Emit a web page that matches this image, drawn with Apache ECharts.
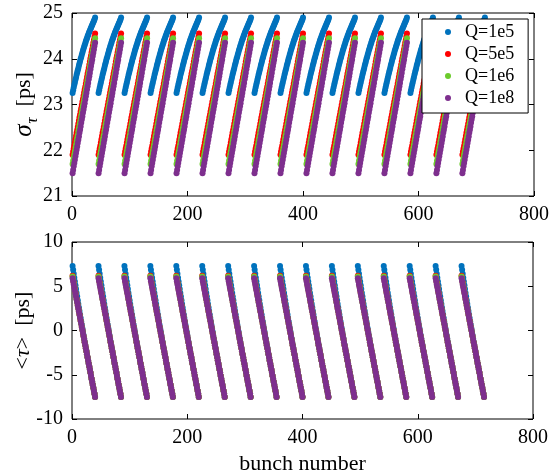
<!DOCTYPE html>
<html><head><meta charset="utf-8">
<script src="https://cdn.jsdelivr.net/npm/echarts@6/dist/echarts.min.js"></script>
<style>html,body{margin:0;padding:0;background:#fff}#c{width:552px;height:476px}</style>
</head><body><div id="c"></div>
<script>
const seriesNames = ['Q=1e5', 'Q=5e5', 'Q=1e6', 'Q=1e8'];
const seriesColors = ['#0072BD', '#FF0000', '#6CCB2C', '#7E2F8E'];
const xTicks = [0, 200, 400, 600, 800];
const sigmaTicks = [21, 22, 23, 24, 25];
const meanTicks = [-10, -5, 0, 5, 10];
// first bunch number of each train
const trainStarts = [1, 46, 91, 136, 181, 226, 271, 316, 361, 406, 451, 496, 541, 586, 631, 676];

// sigma_tau [ps] along one train (40 bunches)
const sigmaQ1e5 = [23.25,23.31,23.37,23.43,23.48,23.54,23.59,23.65,23.70,23.75,23.80,23.85,23.90,23.95,24.00,24.04,24.09,24.13,24.18,24.22,24.26,24.30,24.34,24.38,24.42,24.45,24.49,24.52,24.56,24.59,24.62,24.65,24.68,24.71,24.74,24.77,24.80,24.83,24.86,24.90];
const sigmaQ5e5 = [21.90,21.97,22.04,22.10,22.17,22.24,22.31,22.38,22.44,22.51,22.58,22.65,22.72,22.78,22.85,22.92,22.99,23.06,23.12,23.19,23.26,23.33,23.39,23.46,23.53,23.60,23.67,23.73,23.80,23.87,23.94,24.01,24.07,24.14,24.21,24.28,24.35,24.41,24.48,24.55];
const sigmaQ1e6 = [21.70,21.77,21.84,21.91,21.98,22.05,22.12,22.19,22.26,22.33,22.41,22.48,22.55,22.62,22.69,22.76,22.83,22.90,22.97,23.04,23.11,23.18,23.25,23.32,23.39,23.46,23.53,23.60,23.67,23.74,23.82,23.89,23.96,24.03,24.10,24.17,24.24,24.31,24.38,24.45];
const sigmaQ1e8 = [21.50,21.57,21.65,21.72,21.79,21.87,21.94,22.01,22.08,22.16,22.23,22.30,22.38,22.45,22.52,22.60,22.67,22.74,22.82,22.89,22.96,23.03,23.11,23.18,23.25,23.33,23.40,23.47,23.55,23.62,23.69,23.77,23.84,23.91,23.98,24.06,24.13,24.20,24.28,24.35];

// <tau> [ps] along one train (40 bunches)
const meanQ1e5 = [7.30,6.86,6.41,5.97,5.53,5.10,4.68,4.25,3.83,3.42,3.00,2.60,2.20,1.80,1.41,1.02,0.63,0.25,-0.12,-0.50,-0.87,-1.24,-1.60,-1.96,-2.32,-2.67,-3.02,-3.38,-3.72,-4.06,-4.41,-4.75,-5.10,-5.44,-5.78,-6.13,-6.47,-6.81,-7.16,-7.50];
const meanQ5e5 = [6.20,5.82,5.44,5.07,4.70,4.33,3.97,3.60,3.24,2.89,2.53,2.18,1.83,1.47,1.12,0.78,0.43,0.08,-0.27,-0.62,-0.96,-1.32,-1.66,-2.00,-2.35,-2.69,-3.03,-3.38,-3.72,-4.06,-4.41,-4.75,-5.10,-5.44,-5.78,-6.13,-6.47,-6.81,-7.16,-7.50];
const meanQ1e6 = [6.10,5.73,5.36,5.00,4.64,4.27,3.91,3.54,3.19,2.84,2.49,2.14,1.79,1.44,1.10,0.75,0.40,0.06,-0.28,-0.63,-0.97,-1.32,-1.66,-2.00,-2.35,-2.69,-3.03,-3.38,-3.72,-4.06,-4.41,-4.75,-5.10,-5.44,-5.78,-6.13,-6.47,-6.81,-7.16,-7.50];
const meanQ1e8 = [5.90,5.56,5.21,4.87,4.53,4.18,3.84,3.49,3.15,2.81,2.46,2.12,1.78,1.43,1.09,0.75,0.40,0.06,-0.28,-0.63,-0.97,-1.32,-1.66,-2.00,-2.35,-2.69,-3.03,-3.38,-3.72,-4.06,-4.41,-4.75,-5.10,-5.44,-5.78,-6.13,-6.47,-6.81,-7.16,-7.50];

const sigmaProfiles = [sigmaQ1e5, sigmaQ5e5, sigmaQ1e6, sigmaQ1e8];
const meanProfiles = [meanQ1e5, meanQ5e5, meanQ1e6, meanQ1e8];

function buildPoints(profile) {
  const pts = [];
  trainStarts.forEach(s => profile.forEach((v, i) => pts.push([s + i, v])));
  return pts;
}

const FONT = "'Liberation Serif', 'Times New Roman', serif";
const INK = '#000';

function xAxisPair(gi, extra) {
  const base = {
    gridIndex: gi, type: 'value', min: xTicks[0], max: xTicks[xTicks.length - 1],
    interval: xTicks[1] - xTicks[0],
    axisLine: { show: false, onZero: false },
    axisTick: { inside: true, length: 5, lineStyle: { color: INK } },
    splitLine: { show: false }
  };
  return [
    Object.assign({}, base, { position: 'bottom',
      axisLabel: { fontFamily: FONT, fontSize: 20, color: INK, margin: 9 } }, extra || {}),
    Object.assign({}, base, { position: 'top', axisLabel: { show: false } })
  ];
}
function yAxisPair(gi, ticks, extra) {
  const base = {
    gridIndex: gi, type: 'value', min: ticks[0], max: ticks[ticks.length - 1],
    interval: ticks[1] - ticks[0],
    axisLine: { show: false, onZero: false },
    axisTick: { inside: true, length: 5, lineStyle: { color: INK } },
    splitLine: { show: false }
  };
  return [
    Object.assign({}, base, { position: 'left',
      axisLabel: { fontFamily: FONT, fontSize: 20, color: INK, margin: 9 } }, extra || {}),
    Object.assign({}, base, { position: 'right', axisLabel: { show: false } })
  ];
}

const series = [];
seriesNames.forEach((name, k) => {
  series.push({
    name, type: 'scatter', xAxisIndex: 0, yAxisIndex: 0,
    data: buildPoints(sigmaProfiles[k]), symbol: 'circle', symbolSize: 6,
    itemStyle: { color: seriesColors[k], opacity: 1 }, clip: false, large: false
  });
});
seriesNames.forEach((name, k) => {
  series.push({
    name, type: 'scatter', xAxisIndex: 2, yAxisIndex: 2,
    data: buildPoints(meanProfiles[k]), symbol: 'circle', symbolSize: 6,
    itemStyle: { color: seriesColors[k], opacity: 1 }, clip: false, large: false
  });
});

const chart = echarts.init(document.getElementById('c'), null, { renderer: 'canvas' });
chart.setOption({
  animation: false,
  backgroundColor: '#fff',
  color: seriesColors,
  grid: [
    { left: 72, top: 13, width: 463, height: 183, show: true, borderColor: INK, borderWidth: 1, backgroundColor: 'transparent' },
    { left: 72, top: 242, width: 461, height: 178, show: true, borderColor: INK, borderWidth: 1, backgroundColor: 'transparent' }
  ],
  xAxis: [
    ...xAxisPair(0),
    ...xAxisPair(1, {
      name: 'bunch number', nameLocation: 'middle', nameGap: 34, nameMoveOverlap: false,
      nameTextStyle: { fontFamily: FONT, fontSize: 22, color: INK }
    })
  ],
  yAxis: [
    ...yAxisPair(0, sigmaTicks, {
      name: '{s|σ}{t|τ}  [ps]', nameLocation: 'middle', nameGap: 31, nameMoveOverlap: false,
      nameTextStyle: { fontFamily: FONT, fontSize: 22, color: INK,
        rich: {
          s: { fontFamily: FONT, fontSize: 25, fontStyle: 'italic', color: INK },
          t: { fontFamily: FONT, fontSize: 17, fontStyle: 'italic', color: INK, padding: [16, 0, 0, 1] }
        } }
    }),
    ...yAxisPair(1, meanTicks, {
      name: '<{t|τ}>  [ps]', nameLocation: 'middle', nameGap: 38, nameMoveOverlap: false,
      nameTextStyle: { fontFamily: FONT, fontSize: 22, color: INK,
        rich: { t: { fontFamily: FONT, fontSize: 22, fontStyle: 'italic', color: INK } } }
    })
  ],
  legend: {
    data: seriesNames, orient: 'vertical', left: 422, top: 19,
    padding: [4, 14, 6, 23], itemWidth: 6, itemHeight: 6, itemGap: 4, icon: 'circle',
    backgroundColor: '#fff', borderColor: INK, borderWidth: 1, borderRadius: 0,
    textStyle: { fontFamily: FONT, fontSize: 18, color: INK, lineHeight: 18, padding: [0, 0, 0, 9] }
  },
  series
});
</script>
</body></html>
